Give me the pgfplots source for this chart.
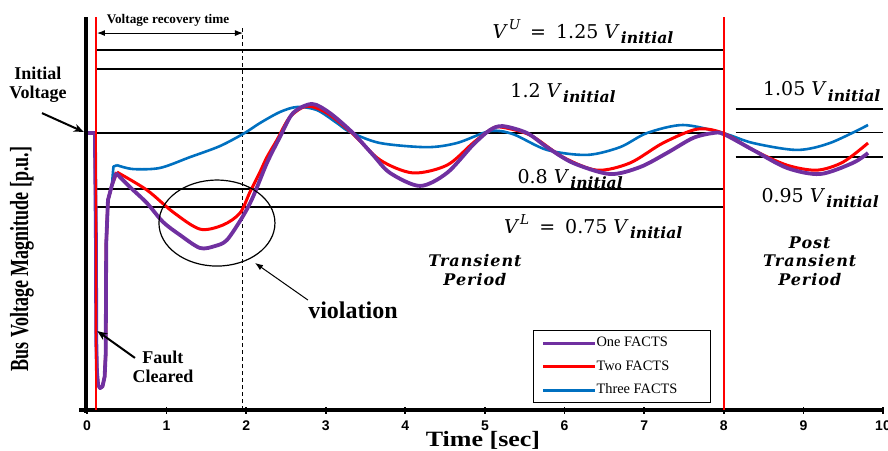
\documentclass[border=0pt]{standalone}
\usepackage{fontspec}
\setmainfont{Liberation Serif}
\setsansfont{Liberation Sans}
\newfontfamily\mathlbl{DejaVu Serif}
\newfontfamily\spc[LetterSpace=6]{DejaVu Serif}
\usepackage{graphicx}
\usepackage{pgfplots}
\pgfplotsset{compat=1.18}
\usetikzlibrary{arrows.meta}

\definecolor{cpurple}{HTML}{7030A0}
\definecolor{cred}{HTML}{FF0000}
\definecolor{cblue}{HTML}{0070C0}

% V_initial as in the figure (bold italic subscript)
\newcommand{\Vin}{\textit{V}\kern0.6pt\raisebox{-2.7pt}{\fontsize{7.8}{8}\selectfont\bfseries\itshape initial}}
\newcommand{\sups}[1]{\kern0.4pt\raisebox{4.4pt}{\fontsize{6.8}{7}\selectfont\itshape #1}}

\begin{document}
\begin{tikzpicture}
\begin{axis}[
  scale only axis,
  width=402pt, height=196.5pt,
  xmin=-0.1, xmax=10, ymin=0, ymax=1.419,
  axis x line*=bottom, axis y line=none,
  x axis line style={line width=1.6pt},
  xtick={0,...,10}, ytick=\empty,
  major tick length=3.5pt, tick align=center,
  tick style={black, line width=0.9pt},
  /pgf/number format/assume math mode=true,
  xticklabel style={font=\sffamily\bfseries\fontsize{7}{8}\selectfont},
  clip=false,
  legend cell align=left,
  legend image code/.code={\draw[#1] (0pt,0pt) -- (17.5pt,0pt); \path (0pt,0pt) -- (26pt,0pt);},
  legend style={at={(0.5647,0.0178)}, anchor=south west, draw=black, line width=0.5pt,
    font=\fontsize{7.2}{8}\selectfont, inner xsep=4pt, inner ysep=3pt,
    nodes={inner sep=0pt, text height=5pt, text depth=1.5pt},
    row sep=5.25pt},
]
% legend order: One, Two, Three
\addlegendimage{cpurple, line width=1.5pt}
\addlegendentry{\hbox to 53pt{One FACTS\hfil}}
\addlegendimage{cred, line width=1.5pt}
\addlegendentry{\hbox to 53pt{Two FACTS\hfil}}
\addlegendimage{cblue, line width=1.5pt}
\addlegendentry{\hbox to 53pt{Three FACTS\hfil}}

% limit lines
\draw[line width=0.7pt] (axis cs:0.113,1.300) -- (axis cs:8.0,1.300);
\draw[line width=0.7pt] (axis cs:0.113,1.231) -- (axis cs:8.0,1.231);
\draw[line width=0.7pt] (axis cs:-0.013,1.000) -- (axis cs:8.0,1.000);
\draw[line width=0.7pt] (axis cs:0.113,0.798) -- (axis cs:8.0,0.798);
\draw[line width=0.7pt] (axis cs:0.113,0.733) -- (axis cs:8.0,0.733);
\draw[line width=0.7pt] (axis cs:8.15,1.087) -- (axis cs:10.0,1.087);
\draw[line width=0.7pt] (axis cs:8.15,1.003) -- (axis cs:10.0,1.003);
\draw[line width=0.7pt] (axis cs:8.15,0.913) -- (axis cs:10.0,0.913);
\draw[line width=0.5pt, dash pattern=on 2pt off 1.5pt] (axis cs:1.96,0) -- (axis cs:1.96,1.39);

% Three FACTS
\addplot[cblue, line width=1.3pt, forget plot, line join=round] coordinates {
 (-0.013,1.0) (0.10,1.0) (0.113,0.60) (0.117,0.25) (0.125,0.14) (0.140,0.09)
 (0.165,0.079) (0.195,0.085) (0.222,0.12) (0.235,0.20) (0.239,0.40) (0.242,0.60)
 (0.264,0.758) (0.314,0.812) (0.327,0.860) (0.333,0.879) (0.377,0.884)
};
\addplot[cblue, line width=1.3pt, smooth, forget plot] coordinates {
 (0.377,0.884) (0.578,0.870) (0.917,0.874) (1.294,0.913) (1.671,0.953) (1.980,1.000)
 (2.173,1.036) (2.425,1.076) (2.638,1.094) (2.889,1.083) (3.141,1.036) (3.304,1.004)
 (3.681,0.964) (4.271,0.949) (4.648,0.964) (5.063,1.007) (5.352,0.996) (5.779,0.939)
 (6.281,0.921) (6.696,0.949) (7.035,1.000) (7.487,1.029) (7.990,1.000) (8.367,0.964)
 (8.920,0.939) (9.334,0.964) (9.812,1.029)
};
% Two FACTS
\addplot[cred, line width=1.5pt, forget plot, line join=round] coordinates {
 (-0.013,1.0) (0.10,1.0) (0.113,0.60) (0.117,0.25) (0.125,0.14) (0.140,0.09)
 (0.165,0.079) (0.195,0.085) (0.222,0.12) (0.235,0.20) (0.239,0.40) (0.242,0.60)
 (0.264,0.758) (0.314,0.812) (0.377,0.859)
};
\addplot[cred, line width=1.5pt, smooth, forget plot] coordinates {
 (0.377,0.859) (0.754,0.794) (1.080,0.715) (1.420,0.653) (1.709,0.668) (1.922,0.711)
 (2.048,0.787) (2.173,0.859) (2.261,0.913) (2.387,0.975) (2.550,1.058) (2.764,1.097)
 (3.015,1.072) (3.329,1.000) (3.681,0.903) (4.095,0.856) (4.523,0.884) (4.849,0.964)
 (5.063,1.011) (5.188,1.022) (5.565,0.993) (5.980,0.913) (6.407,0.866) (6.822,0.892)
 (7.236,0.964) (7.663,1.014) (7.990,1.000) (8.367,0.939) (8.794,0.884) (9.171,0.866)
 (9.497,0.895) (9.812,0.964)
};
% One FACTS
\addplot[cpurple, line width=1.9pt, forget plot, line join=round] coordinates {
 (-0.013,1.0) (0.10,1.0) (0.113,0.60) (0.117,0.25) (0.125,0.14) (0.140,0.09)
 (0.165,0.079) (0.195,0.085) (0.222,0.12) (0.235,0.20) (0.239,0.40) (0.242,0.60)
 (0.264,0.758) (0.314,0.812) (0.364,0.856)
};
\addplot[cpurple, line width=1.9pt, smooth, forget plot] coordinates {
 (0.364,0.856) (0.540,0.805) (0.754,0.747) (0.955,0.679) (1.168,0.632) (1.420,0.585)
 (1.608,0.592) (1.759,0.614) (1.960,0.700) (2.085,0.769) (2.261,0.892) (2.425,0.986)
 (2.588,1.072) (2.827,1.105) (3.053,1.072) (3.342,1.000) (3.593,0.921) (3.807,0.856)
 (4.183,0.809) (4.523,0.856) (4.849,0.957) (5.063,1.011) (5.226,1.025) (5.528,1.000)
 (5.779,0.949) (6.106,0.892) (6.570,0.852) (6.947,0.877) (7.286,0.928) (7.613,0.982)
 (7.864,1.000) (8.000,0.996) (8.367,0.939) (8.794,0.874) (9.209,0.852) (9.620,0.892)
 (9.812,0.928)
};

% y axis line and red period markers
\draw[line width=2.2pt] (axis cs:-0.013,-0.01) -- (axis cs:-0.013,1.419);
\draw[cred, line width=0.75pt] (axis cs:0.113,0) -- (axis cs:0.113,1.419);
\draw[cred, line width=0.75pt] (axis cs:8.0,0) -- (axis cs:8.0,1.419);

% recovery time
\draw[line width=0.5pt, {Latex[length=4pt,width=3pt]}-{Latex[length=4pt,width=3pt]}]
  (axis cs:0.126,1.361) -- (axis cs:1.96,1.361);
\node[font=\bfseries\fontsize{6.6}{7}\selectfont] at (axis cs:1.018,1.408) {Voltage recovery time};

% limit labels
\node[anchor=base, font=\mathlbl\fontsize{9.5}{10}\selectfont] at (axis cs:6.231,1.343)
  {\textit{V}\sups{U}\hspace{5pt}=\hspace{5pt}1.25\hspace{3pt}\Vin};
\node[anchor=base, font=\mathlbl\fontsize{9.5}{10}\selectfont] at (axis cs:5.98,1.130) {1.2\hspace{3pt}\Vin};
\node[anchor=base, font=\mathlbl\fontsize{9.5}{10}\selectfont] at (axis cs:6.07,0.819) {0.8\hspace{3pt}\Vin};
\node[anchor=base, font=\mathlbl\fontsize{9.5}{10}\selectfont] at (axis cs:6.36,0.639)
  {\textit{V}\sups{L}\hspace{5pt}=\hspace{5pt}0.75\hspace{3pt}\Vin};
\node[anchor=base, font=\mathlbl\fontsize{9.5}{10}\selectfont] at (axis cs:9.23,1.134) {1.05\hspace{3pt}\Vin};
\node[anchor=base, font=\mathlbl\fontsize{9.5}{10}\selectfont] at (axis cs:9.21,0.751) {0.95\hspace{3pt}\Vin};

% periods
\node[align=center, font=\spc\bfseries\itshape\fontsize{8}{9.3}\selectfont] at (axis cs:4.874,0.505) {Transient\\Period};
\node[align=center, font=\spc\bfseries\itshape\fontsize{8}{9.3}\selectfont] at (axis cs:9.08,0.538) {Post\\Transient\\Period};

% annotations
\node[align=center, font=\bfseries\fontsize{9}{9.5}\selectfont] at (axis cs:-0.616,1.173) {Initial\\Voltage};
\draw[line width=1pt, -{Stealth[length=5pt,width=4pt]}] (axis cs:-0.565,1.072) -- (axis cs:-0.04,1.004);
\node[align=center, font=\bfseries\fontsize{9}{9.5}\selectfont] at (axis cs:0.955,0.155) {Fault\\Cleared};
\draw[line width=1pt, -{Stealth[length=5pt,width=4pt]}] (axis cs:0.603,0.188) -- (axis cs:0.13,0.285);
\draw[line width=0.6pt] (axis cs:1.633,0.675) ellipse [x radius=29pt, y radius=21.5pt];
\node[font=\bfseries\fontsize{12}{13}\selectfont] at (axis cs:3.342,0.361) {violation};
\draw[line width=0.5pt, -{Latex[length=4pt,width=3pt]}] (axis cs:2.776,0.397) -- (axis cs:2.111,0.531);

% axis titles
\node[font=\bfseries\fontsize{13}{14}\selectfont, inner sep=1pt] at (axis cs:4.975,-0.111) {\scalebox{1}[0.84]{Time [sec]}};
\node[rotate=90, yscale=1.45, font=\bfseries\fontsize{9}{10}\selectfont] at (axis cs:-0.817,0.545)
  {Bus Voltage Magnitude [p.u.]};
\end{axis}
\pgfresetboundingbox
\useasboundingbox (-39.5pt,-20pt) rectangle (404.5pt,205pt);
\end{tikzpicture}
\end{document}
